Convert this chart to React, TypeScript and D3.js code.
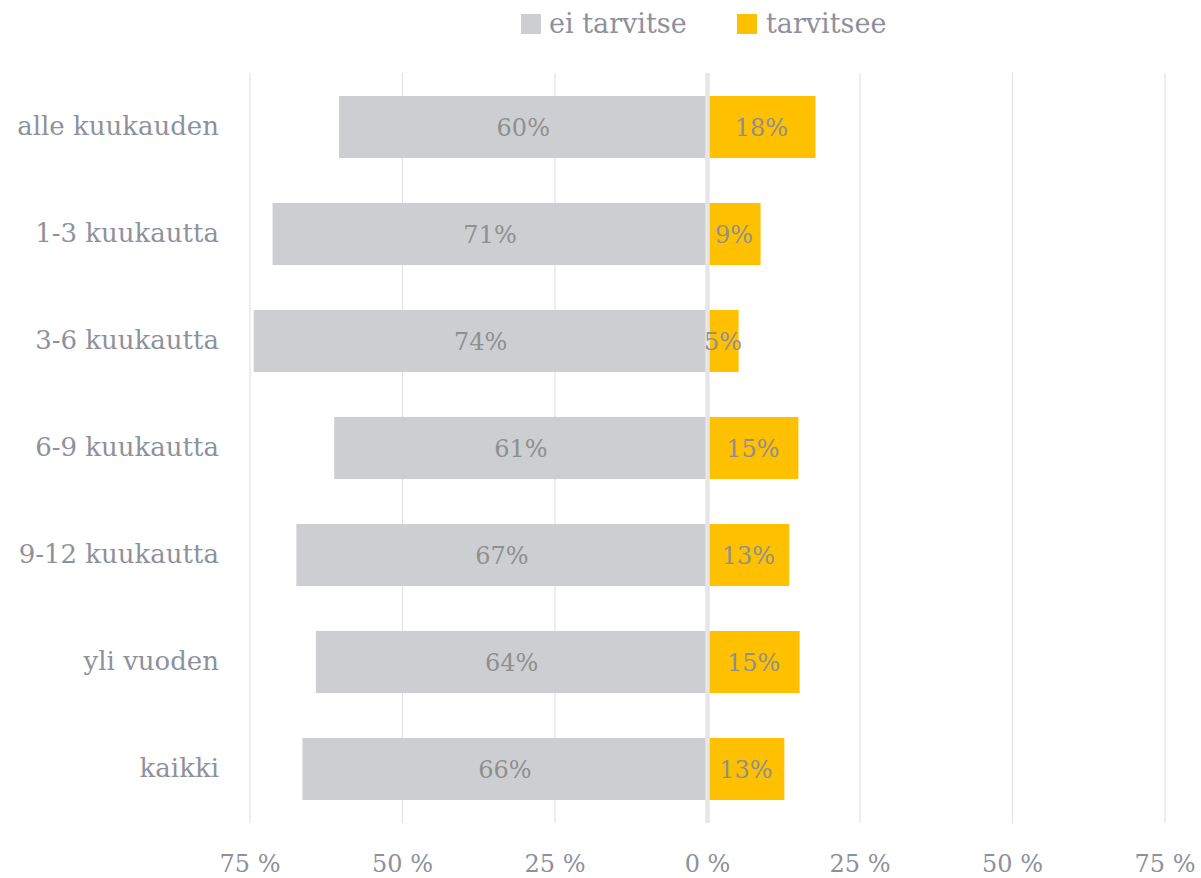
import React from "react";
import * as d3 from "d3";

const categories = ["alle kuukauden", "1-3 kuukautta", "3-6 kuukautta", "6-9 kuukautta", "9-12 kuukautta", "yli vuoden", "kaikki"];
const eiTarvitse = [60.4, 71.3, 74.4, 61.2, 67.4, 64.2, 66.4];
const tarvitsee = [17.7, 8.7, 5.1, 14.9, 13.4, 15.1, 12.6];
const eiLabels = ["60%", "71%", "74%", "61%", "67%", "64%", "66%"];
const tarLabels = ["18%", "9%", "5%", "15%", "13%", "15%", "13%"];
const ticks = [-75, -50, -25, 0, 25, 50, 75];
const seriesNames = ["ei tarvitse", "tarvitsee"];

const W = 1201, H = 878;
const FONT = "'DejaVu Serif', 'Liberation Serif', serif";
const GRAY = "#cdced2";
const ORANGE = "#ffc000";
const TEXT = "#8e919b";

export default function App() {
  const x = d3.scaleLinear().domain([-75, 75]).range([250, 1165]);
  const y = d3.scaleBand<string>().domain(categories).range([73.5, 822.5]).paddingInner(0.42).paddingOuter(0.21);
  const bw = y.bandwidth();
  return (
    <svg width={W} height={H} style={{ position: "absolute", left: 0, top: 0, background: "#fff" }} fontFamily={FONT}>
      {/* legend */}
      <rect x={521} y={14} width={20} height={20} fill={GRAY} />
      <text x={549} y={33} fontSize={27} fill={TEXT}>{seriesNames[0]}</text>
      <rect x={737} y={14} width={20} height={20} fill={ORANGE} />
      <text x={766} y={33} fontSize={27} fill={TEXT}>{seriesNames[1]}</text>
      {/* gridlines */}
      {ticks.filter(t => t !== 0).map(t => (
        <line key={t} x1={x(t)} x2={x(t)} y1={73} y2={823} stroke="#e3e3e3" strokeWidth={1.2} />
      ))}
      {/* bars */}
      {categories.map((c, i) => (
        <g key={c}>
          <rect x={x(-eiTarvitse[i])} y={y(c)} width={x(0) - x(-eiTarvitse[i])} height={bw} fill={GRAY} />
          <rect x={x(0)} y={y(c)} width={x(tarvitsee[i]) - x(0)} height={bw} fill={ORANGE} />
        </g>
      ))}
      <line x1={x(0)} x2={x(0)} y1={73} y2={823} stroke="#e6e6e8" strokeWidth={4.5} />
      {categories.map((c, i) => {
        const cy = (y(c) as number) + bw / 2;
        return (
          <g key={c + "l"}>
            <text x={(x(-eiTarvitse[i]) + x(0)) / 2} y={cy + 9} fontSize={24} fill="#8f8f8f" textAnchor="middle">{eiLabels[i]}</text>
            <text x={(x(tarvitsee[i]) + x(0)) / 2} y={cy + 9} fontSize={24} fill="#8f8f8f" textAnchor="middle">{tarLabels[i]}</text>
            <text x={219} y={cy + 8} fontSize={26} fill={TEXT} textAnchor="end">{c}</text>
          </g>
        );
      })}
      {ticks.map(t => (
        <text key={t} x={x(t)} y={872} fontSize={24} fill={TEXT} textAnchor="middle">{`${Math.abs(t)} %`}</text>
      ))}
    </svg>
  );
}
